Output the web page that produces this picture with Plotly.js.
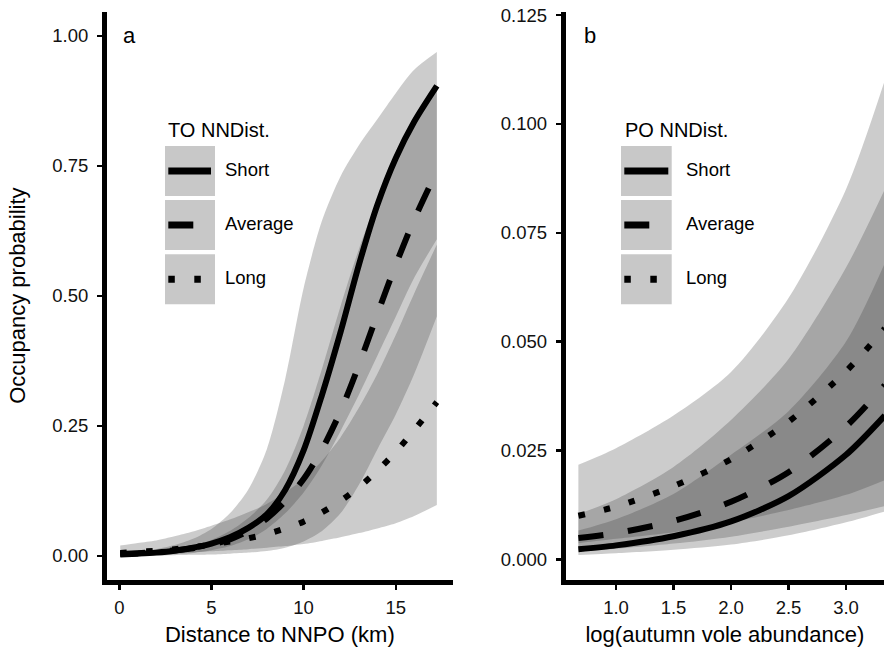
<!DOCTYPE html>
<html><head><meta charset="utf-8">
<script src="https://cdn.plot.ly/plotly-3.0.1.min.js"></script>
<style>html,body{margin:0;padding:0;background:#fff;overflow:hidden}#chart{width:884px;height:647px}</style>
</head><body><div id="chart"></div>
<script>
// ---------- Panel a : occupancy vs distance to NNPO ----------
const distKm        = [0.05, 1, 2, 3, 4, 5, 6, 7, 8, 9, 10, 11, 12, 13, 14, 15, 16, 17.23];
const aShortFit     = [0.003, 0.0045, 0.0065, 0.010, 0.016, 0.024, 0.036, 0.054, 0.080, 0.127, 0.203, 0.31, 0.43, 0.56, 0.675, 0.765, 0.835, 0.904];
const aShortHigh    = [0.006, 0.009, 0.013, 0.021, 0.033, 0.052, 0.082, 0.128, 0.205, 0.34, 0.515, 0.645, 0.73, 0.79, 0.84, 0.89, 0.935, 0.969];
const aShortLow     = [0.0008, 0.0012, 0.002, 0.0035, 0.006, 0.011, 0.019, 0.032, 0.052, 0.082, 0.122, 0.175, 0.24, 0.31, 0.385, 0.46, 0.535, 0.609];
const aAverageFit   = [0.004, 0.0055, 0.0075, 0.011, 0.015, 0.022, 0.032, 0.048, 0.072, 0.105, 0.148, 0.205, 0.278, 0.367, 0.465, 0.56, 0.647, 0.74];
const aAverageHigh  = [0.006, 0.008, 0.010, 0.014, 0.020, 0.031, 0.048, 0.073, 0.108, 0.165, 0.25, 0.36, 0.48, 0.59, 0.685, 0.77, 0.845, 0.905];
const aAverageLow   = [0.0005, 0.0007, 0.001, 0.0015, 0.0022, 0.003, 0.0045, 0.0065, 0.0095, 0.016, 0.028, 0.048, 0.082, 0.137, 0.205, 0.272, 0.35, 0.461];
const aLongFit      = [0.006, 0.008, 0.010, 0.013, 0.017, 0.022, 0.028, 0.034, 0.042, 0.053, 0.066, 0.084, 0.106, 0.132, 0.164, 0.200, 0.242, 0.296];
const aLongHigh     = [0.020, 0.025, 0.030, 0.038, 0.047, 0.058, 0.070, 0.084, 0.100, 0.122, 0.148, 0.183, 0.228, 0.285, 0.350, 0.425, 0.505, 0.599];
const aLongLow      = [0.002, 0.003, 0.004, 0.0055, 0.007, 0.009, 0.011, 0.013, 0.016, 0.019, 0.023, 0.029, 0.036, 0.044, 0.053, 0.063, 0.077, 0.098];

// ---------- Panel b : occupancy vs log(autumn vole abundance) ----------
const logVole       = [0.673, 1.0, 1.5, 2.0, 2.5, 3.0, 3.337];
const bShortFit     = [0.0023, 0.0032, 0.0053, 0.0087, 0.0145, 0.0240, 0.0330];
const bShortHigh    = [0.0066, 0.0092, 0.0150, 0.0240, 0.0340, 0.0500, 0.0680];
const bShortLow     = [0.0010, 0.0014, 0.0022, 0.0034, 0.0055, 0.0085, 0.0110];
const bAverageFit   = [0.0049, 0.0060, 0.0088, 0.0132, 0.0200, 0.0305, 0.0400];
const bAverageHigh  = [0.0104, 0.0138, 0.0212, 0.0320, 0.0460, 0.0670, 0.0850];
const bAverageLow   = [0.00175, 0.0024, 0.0036, 0.0052, 0.0075, 0.0102, 0.0122];
const bLongFit      = [0.0100, 0.0121, 0.0168, 0.0230, 0.0316, 0.0432, 0.0530];
const bLongHigh     = [0.0217, 0.0255, 0.0330, 0.0430, 0.0600, 0.0850, 0.1100];
const bLongLow      = [0.0037, 0.0047, 0.0062, 0.0085, 0.0113, 0.0148, 0.0182];

const groupNames = ['Short', 'Average', 'Long'];
const aTicksY = [0, 0.25, 0.5, 0.75, 1.0];
const aTickTextY = ['0.00', '0.25', '0.50', '0.75', '1.00'];
const bTicksY = [0, 0.025, 0.05, 0.075, 0.1, 0.125];
const bTickTextY = ['0.000', '0.025', '0.050', '0.075', '0.100', '0.125'];
const aTicksX = [0, 5, 10, 15];
const bTicksX = [1.0, 1.5, 2.0, 2.5, 3.0];
const bTickTextX = ['1.0', '1.5', '2.0', '2.5', '3.0'];

// ---------- styling ----------
const W = 884, H = 647;
const FONT = 'Liberation Sans, Arial, Helvetica, sans-serif';
const RIBBON = 'rgba(51,51,51,0.25)';
const LINE_W = 6;
const DASHES = ['solid', '25px,25px', '6.5px,19.5px'];
const px = v => v / W;
const py = v => 1 - v / H;

const traces = [];
function addPanel(x, fits, highs, lows, xa, ya) {
  for (let g = 0; g < 3; g++) {
    traces.push({x: x, y: lows[g], xaxis: xa, yaxis: ya, mode: 'lines', type: 'scatter',
      line: {width: 0, shape: 'spline', smoothing: 0.8, color: 'rgba(0,0,0,0)'}, hoverinfo: 'skip', showlegend: false});
    traces.push({x: x, y: highs[g], xaxis: xa, yaxis: ya, mode: 'lines', type: 'scatter', fill: 'tonexty',
      fillcolor: RIBBON, line: {width: 0, shape: 'spline', smoothing: 0.8, color: 'rgba(0,0,0,0)'},
      hoverinfo: 'skip', showlegend: false});
  }
  for (let g = 0; g < 3; g++) {
    traces.push({x: x, y: fits[g], xaxis: xa, yaxis: ya, mode: 'lines', type: 'scatter', name: groupNames[g],
      line: {width: LINE_W, color: '#000', dash: DASHES[g], shape: 'spline', smoothing: 0.8}, showlegend: false});
  }
}
addPanel(distKm, [aShortFit, aAverageFit, aLongFit], [aShortHigh, aAverageHigh, aLongHigh],
         [aShortLow, aAverageLow, aLongLow], 'x', 'y');
addPanel(logVole, [bShortFit, bAverageFit, bLongFit], [bShortHigh, bAverageHigh, bLongHigh],
         [bShortLow, bAverageLow, bLongLow], 'x2', 'y2');

const axisCommon = {
  showgrid: false, zeroline: false, showline: true, linewidth: 5, linecolor: '#000',
  ticks: 'outside', ticklen: 5, tickwidth: 2.5, tickcolor: '#000',
  tickfont: {family: FONT, size: 18.5, color: '#111'}, fixedrange: true
};

// legends (drawn as keys)
const shapes = [];
const annotations = [];
function addLegend(title, boxX0, boxX1, lineX0, lineX1, titleX, labelX) {
  const boxesY = [[146, 196], [200, 250], [254.3, 304.3]];
  annotations.push({xref: 'paper', yref: 'paper', x: px(titleX), y: py(130), xanchor: 'left', yanchor: 'middle',
    text: title, showarrow: false, font: {family: FONT, size: 20, color: '#000'}});
  for (let g = 0; g < 3; g++) {
    const [t, b] = boxesY[g];
    shapes.push({type: 'rect', xref: 'paper', yref: 'paper', x0: px(boxX0), x1: px(boxX1), y0: py(b), y1: py(t),
      fillcolor: 'rgb(200,200,200)', line: {width: 0}, layer: 'above'});
    const ym = (t + b) / 2;
    shapes.push({type: 'line', xref: 'paper', yref: 'paper', x0: px(lineX0), x1: px(lineX1), y0: py(ym), y1: py(ym),
      line: {color: '#000', width: LINE_W + 1, dash: DASHES[g]}, layer: 'above'});
    annotations.push({xref: 'paper', yref: 'paper', x: px(labelX), y: py(ym - 1.5), xanchor: 'left', yanchor: 'middle',
      text: groupNames[g], showarrow: false, font: {family: FONT, size: 18.5, color: '#000'}});
  }
}
addLegend('TO NNDist.', 165, 215, 168.3, 211, 166, 222.5);
addLegend('PO NNDist.', 621, 671.7, 624.3, 668.3, 622.5, 683.5);

annotations.push({xref: 'paper', yref: 'paper', x: px(121), y: py(35.5), xanchor: 'left', yanchor: 'middle',
  text: 'a', showarrow: false, font: {family: FONT, size: 22, color: '#000'}});
annotations.push({xref: 'paper', yref: 'paper', x: px(582), y: py(35.5), xanchor: 'left', yanchor: 'middle',
  text: 'b', showarrow: false, font: {family: FONT, size: 22, color: '#000'}});

const layout = {
  width: W, height: H, margin: {l: 0, r: 0, t: 0, b: 0}, paper_bgcolor: '#fff', plot_bgcolor: '#fff',
  showlegend: false, font: {family: FONT, color: '#000'},
  xaxis: Object.assign({}, axisCommon, {domain: [px(107), px(452.7)], range: [-0.667, 18.09],
    tickvals: aTicksX, ticktext: aTicksX.map(String), anchor: 'y', ticklabelstandoff: 2,
    title: {text: 'Distance to NNPO (km)', font: {family: FONT, size: 22, color: '#000'}}}),
  yaxis: Object.assign({}, axisCommon, {domain: [py(579.5), py(11.7)], range: [-0.0452, 1.0467],
    tickvals: aTicksY, ticktext: aTickTextY, anchor: 'x', ticklabelstandoff: 5,
    title: {text: 'Occupancy probability', standoff: 22, font: {family: FONT, size: 22, color: '#000'}}}),
  xaxis2: Object.assign({}, axisCommon, {domain: [px(565.8), 1], range: [0.5635, 3.33],
    tickvals: bTicksX, ticktext: bTickTextX, anchor: 'y2', ticklabelstandoff: 2,
    title: {text: 'log(autumn vole abundance)', font: {family: FONT, size: 22, color: '#000'}}}),
  yaxis2: Object.assign({}, axisCommon, {domain: [py(579.5), py(11.7)], range: [-0.00464, 0.12577],
    tickvals: bTicksY, ticktext: bTickTextY, anchor: 'x2', ticklabelstandoff: 5}),
  shapes: shapes, annotations: annotations
};

Plotly.newPlot('chart', traces, layout, {staticPlot: true, displayModeBar: false});
</script></body></html>
